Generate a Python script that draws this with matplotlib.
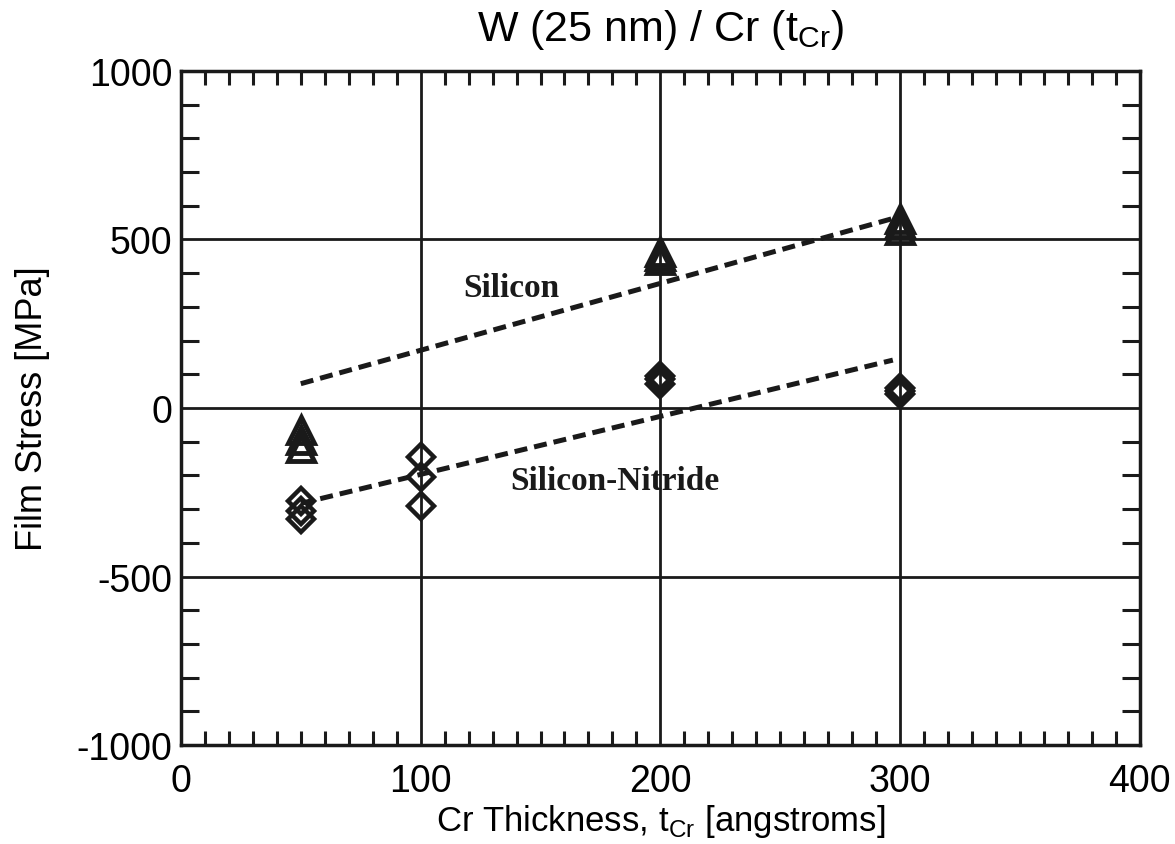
import matplotlib
matplotlib.use("Agg")
import matplotlib.pyplot as plt
from matplotlib.ticker import MultipleLocator

plt.rcParams['font.family'] = ['Liberation Sans', 'DejaVu Sans']
plt.rcParams['mathtext.fontset'] = 'custom'
plt.rcParams['mathtext.rm'] = 'Liberation Sans'
plt.rcParams['axes.unicode_minus'] = False

# data
silicon_x = [50, 50, 50, 200, 200, 200, 300, 300, 300]
silicon_y = [-65, -95, -120, 440, 450, 462, 528, 545, 560]
nitride_x = [50, 50, 50, 100, 100, 100, 200, 200, 200, 300, 300, 300]
nitride_y = [-275, -305, -330, -145, -205, -290, 70, 85, 95, 40, 50, 60]

# dashed trend lines (end points)
fit_x = [50, 297]
silicon_fit = [72, 562]
nitride_fit = [-283, 142]

fig = plt.figure(figsize=(11.75, 8.45), dpi=100)
ax = fig.add_axes([0.154, 0.117, 0.816, 0.798])

for v in [100, 200, 300]:
    ax.axvline(v, color='#1a1a1a', lw=2.0, zorder=1)
for v in [-500, 0, 500]:
    ax.axhline(v, color='#1a1a1a', lw=2.0, zorder=1)

ax.plot(fit_x, silicon_fit, color='#1a1a1a', lw=3.6, ls=(0, (2.6, 1.4)), zorder=2)
ax.plot(fit_x, nitride_fit, color='#1a1a1a', lw=3.6, ls=(0, (2.6, 1.4)), zorder=2)

ax.plot(silicon_x, silicon_y, ls='none', marker='^', ms=19, mfc='none',
        mec='#1a1a1a', mew=3.5, zorder=3)
ax.plot(nitride_x, nitride_y, ls='none', marker='D', ms=13, mfc='none',
        mec='#1a1a1a', mew=3.2, zorder=3)

ax.text(138, 356, 'Silicon', family='Liberation Serif', weight='bold',
        fontsize=24, ha='center', va='center', color='#1a1a1a')
ax.text(181, -214, 'Silicon-Nitride', family='Liberation Serif', weight='bold',
        fontsize=24, ha='center', va='center', color='#1a1a1a')

ax.set_xlim(0, 400)
ax.set_ylim(-1000, 1000)
ax.set_xticks([0, 100, 200, 300, 400])
ax.set_yticks([-1000, -500, 0, 500, 1000])
ax.xaxis.set_minor_locator(MultipleLocator(10))
ax.yaxis.set_minor_locator(MultipleLocator(100))
ax.tick_params(which='both', direction='in', top=True, right=True,
               color='#1a1a1a')
ax.tick_params(which='major', length=0, labelsize=27, pad=6)
ax.tick_params(which='minor', axis='x', length=10, width=2.2)
ax.tick_params(which='minor', axis='y', length=13, width=2.2)
ax.tick_params(axis='x', which='major', pad=13)
for s in ax.spines.values():
    s.set_linewidth(2.5)
    s.set_color('#1a1a1a')

ax.set_title(r'W (25 nm) / Cr (t$_{\mathrm{Cr}}$)', fontsize=31, pad=22)
ax.set_xlabel(r'Cr Thickness, t$_{\mathrm{Cr}}$ [angstroms]', fontsize=25,
              labelpad=2)
ax.set_ylabel('Film Stress [MPa]', fontsize=26)
ax.yaxis.set_label_coords(-0.137, 0.5)

fig.savefig('out.png', dpi=100)
